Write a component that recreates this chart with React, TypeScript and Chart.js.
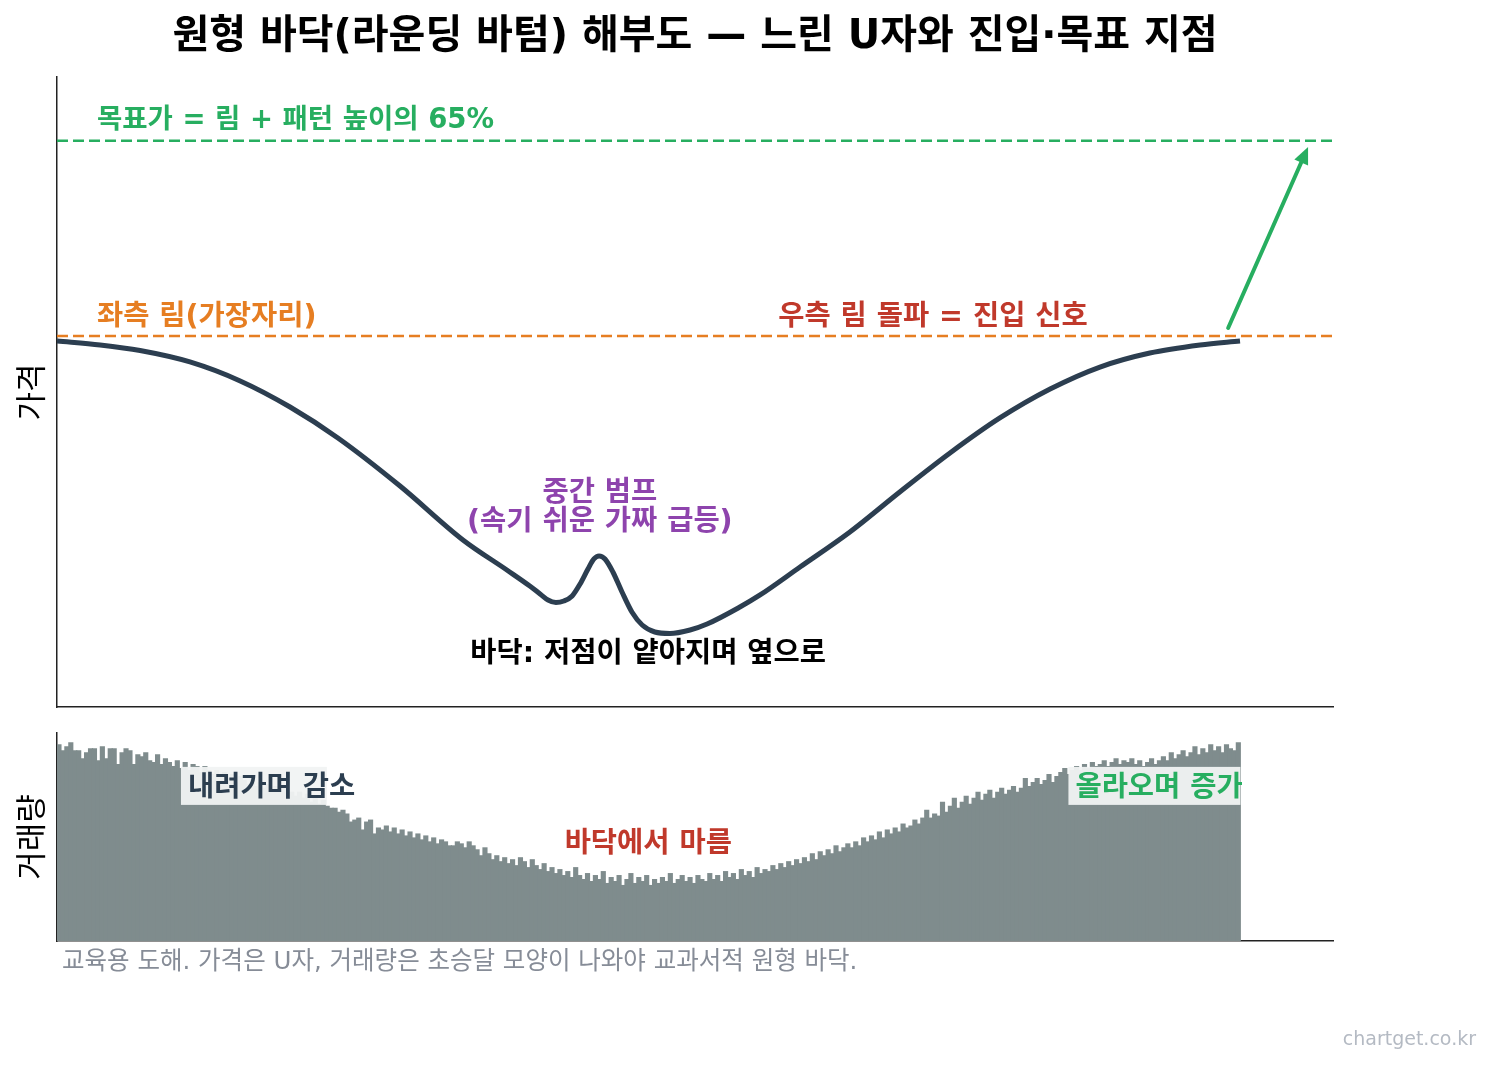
import { useEffect, useRef } from "react";
import { Chart, registerables } from "chart.js";

Chart.register(...registerables);

const FONT = '"DejaVu Sans", "Noto Sans CJK KR", sans-serif';
const FONT_KR = '"Noto Sans CJK KR", "DejaVu Sans", sans-serif';
const DARK = "#2c3e50";
const GREEN = "#27ae60";
const ORANGE = "#e67e22";
const RED = "#c0392b";
const PURPLE = "#8e44ad";
const BAR_GRAY = "#7f8c8d";

const TITLE = "원형 바닥(라운딩 바텀) 해부도 — 느린 U자와 진입·목표 지점";
const FOOTNOTE = "교육용 도해. 가격은 U자, 거래량은 초승달 모양이 나와야 교과서적 원형 바닥.";
const WATERMARK = "chartget.co.kr";

// Price levels of the pattern
const RIM = 100;
const PATTERN_LOW = 69.8;
const TARGET_SHARE = 0.65;
const TARGET = RIM + TARGET_SHARE * (RIM - PATTERN_LOW);

// Price path: session index -> price
const priceIdx = [
  0, 10.9, 21, 33.6, 46.3, 58.9, 71, 86.7, 102.6, 113.7, 119.5, 122.1, 124.1,
  126.1, 128.1, 130.2, 132.2, 134.2, 135.7, 137, 138.5, 140.5, 142.8, 145.3,
  147.9, 151.1, 154.9, 160, 164.3, 172.6, 177.7, 187.8, 200.4, 213, 225.7,
  238.3, 251, 263.6, 276.2, 288.9, 299,
];
const priceVal = [
  99.5, 99.1, 98.54, 97.39, 95.48, 92.86, 89.75, 84.92, 79.5, 76.48, 74.87,
  74.07, 73.46, 73.21, 73.36, 73.87, 75.07, 76.58, 77.59, 77.89, 77.59, 76.28,
  74.27, 72.26, 70.95, 70.25, 70.1, 70.45, 71.05, 72.76, 73.97, 76.78, 80.3,
  84.32, 88.24, 91.76, 94.67, 96.88, 98.29, 99.1, 99.5,
];

// Daily volume, one bar per session
const volumeData = [
  99, 96, 98, 100, 96, 96, 92, 95, 97, 97, 91, 98, 92, 97, 97, 89, 95, 97, 96, 89,
  94, 93, 95, 91, 90, 94, 89, 92, 90, 88, 91, 87, 90, 86, 89, 88, 85, 88, 86, 84,
  86, 83, 85, 82, 84, 80, 83, 81, 79, 82, 78, 80, 77, 79, 76, 78, 75, 77, 74, 75,
  73, 75, 72, 74, 70, 72, 69, 71, 68, 67, 67, 65, 66, 64, 60, 61, 62, 56, 60, 61,
  54, 57, 56, 58, 55, 57, 54, 56, 53, 55, 52, 54, 51, 53, 50, 52, 49, 51, 50, 48,
  48, 50, 49, 47, 50, 48, 46, 43, 47, 44, 41, 43, 40, 42, 39, 41, 38, 42, 40, 37,
  41, 38, 36, 39, 35, 37, 34, 36, 33, 35, 32, 37, 33, 31, 34, 30, 33, 31, 35, 29,
  32, 30, 33, 28, 31, 34, 29, 32, 30, 33, 28, 31, 29, 32, 30, 34, 29, 31, 33, 30,
  32, 29, 33, 31, 30, 34, 31, 33, 30, 35, 32, 34, 31, 36, 33, 35, 32, 37, 34, 36,
  35, 38, 36, 39, 37, 40, 38, 41, 39, 42, 40, 44, 41, 45, 43, 46, 44, 48, 45, 47,
  49, 47, 50, 48, 52, 50, 53, 51, 55, 52, 56, 54, 57, 55, 59, 57, 58, 61, 59, 62,
  66, 62, 64, 63, 70, 65, 68, 72, 67, 70, 73, 69, 72, 75, 71, 74, 76, 72, 75, 77,
  74, 76, 78, 75, 77, 82, 78, 80, 82, 79, 81, 84, 80, 83, 85, 87, 84, 86, 88, 86,
  89, 87, 90, 88, 89, 91, 88, 90, 92, 89, 91, 90, 92, 89, 91, 88, 90, 92, 89, 91,
  93, 91, 95, 92, 94, 96, 93, 95, 98, 94, 97, 95, 99, 96, 98, 95, 99, 97, 96, 100,
];

// Annotation anchors in data coordinates (session index, price / volume)
const priceNotes = [
  { text: "목표가 = 림 + 패턴 높이의 65%", x: 10.1, y: 121.9, color: GREEN, align: "left", size: 27.5 },
  { text: "좌측 림(가장자리)", x: 10.1, y: 102.2, color: ORANGE, align: "left", size: 28.5 },
  { text: "우측 림 돌파 = 진입 신호", x: 221.4, y: 102.2, color: RED, align: "center", size: 28.5 },
  { text: "중간 범프", x: 137.2, y: 84.42, color: PURPLE, align: "center", size: 28.5 },
  { text: "(속기 쉬운 가짜 급등)", x: 137.2, y: 81.51, color: PURPLE, align: "center", size: 28.5 },
  { text: "바닥: 저점이 얕아지며 옆으로", x: 149.4, y: 68.24, color: "#000000", align: "center", size: 28.5 },
];
const breakoutArrow = { from: [296, 100.8], to: [316.2, 119.0] };

const volumeNotes = [
  { text: "내려가며 감소", x: 32.7, y: 78.3, color: DARK, align: "left", boxWidth: 146 },
  { text: "바닥에서 마름", x: 149.4, y: 50, color: RED, align: "center", boxWidth: 0 },
  { text: "올라오며 증가", x: 257.7, y: 78.3, color: GREEN, align: "left", boxWidth: 172 },
];

const X_MAX_PRICE = 322.5;
const X_MAX_VOL = 323;

const TEXT_NUDGE = 3; // px; optical centring of Hangul on a "middle" baseline

const axisBorder = { display: true, color: "#222222", width: 1.5 };
const hiddenTicks = { display: false };
const noGrid = { display: false, drawTicks: false };
const axisTitleFont = { family: FONT_KR, size: 31 };
const axisTitlePad = { top: 4, bottom: 8.4 };

const priceOverlay = {
  id: "priceOverlay",
  afterDatasetsDraw(chart: any) {
    const { ctx, scales } = chart;
    const xs = scales.x;
    const ys = scales.y;
    ctx.save();
    // breakout arrow toward the target
    const x0 = xs.getPixelForValue(breakoutArrow.from[0]);
    const y0 = ys.getPixelForValue(breakoutArrow.from[1]);
    const x1 = xs.getPixelForValue(breakoutArrow.to[0]);
    const y1 = ys.getPixelForValue(breakoutArrow.to[1]);
    const ang = Math.atan2(y1 - y0, x1 - x0);
    const headLen = 17;
    const headHalf = 7.5;
    const bx = x1 - headLen * Math.cos(ang);
    const by = y1 - headLen * Math.sin(ang);
    ctx.strokeStyle = GREEN;
    ctx.fillStyle = GREEN;
    ctx.lineWidth = 4;
    ctx.lineCap = "round";
    ctx.beginPath();
    ctx.moveTo(x0, y0);
    ctx.lineTo(bx, by);
    ctx.stroke();
    ctx.beginPath();
    ctx.moveTo(x1, y1);
    ctx.lineTo(bx + headHalf * Math.sin(ang), by - headHalf * Math.cos(ang));
    ctx.lineTo(bx - headHalf * Math.sin(ang), by + headHalf * Math.cos(ang));
    ctx.closePath();
    ctx.fill();

    ctx.textBaseline = "middle";
    for (const n of priceNotes) {
      ctx.font = `bold ${n.size}px ${FONT}`;
      ctx.fillStyle = n.color;
      ctx.textAlign = n.align as CanvasTextAlign;
      ctx.fillText(n.text, xs.getPixelForValue(n.x), ys.getPixelForValue(n.y) + TEXT_NUDGE);
    }
    ctx.restore();
  },
};

const volumeOverlay = {
  id: "volumeOverlay",
  afterDatasetsDraw(chart: any) {
    const { ctx, scales, width } = chart;
    const xs = scales.x;
    const ys = scales.y;
    ctx.save();
    ctx.font = `bold 28.5px ${FONT}`;
    ctx.textBaseline = "middle";
    for (const n of volumeNotes) {
      const px = xs.getPixelForValue(n.x);
      const py = ys.getPixelForValue(n.y);
      if (n.boxWidth > 0) {
        ctx.fillStyle = "rgba(241, 243, 243, 0.95)";
        ctx.fillRect(px - 7, py - 19, n.boxWidth, 38);
      }
      ctx.fillStyle = n.color;
      ctx.textAlign = n.align as CanvasTextAlign;
      ctx.fillText(n.text, px, py + TEXT_NUDGE);
    }
    // footnote under the volume panel
    ctx.font = `24.5px ${FONT}`;
    ctx.fillStyle = "#868c97";
    ctx.textAlign = "left";
    ctx.fillText(FOOTNOTE, chart.chartArea.left + 5, chart.chartArea.bottom + 22);
    // site mark
    ctx.font = `19px "DejaVu Sans", sans-serif`;
    ctx.fillStyle = "#b4bac3";
    ctx.textAlign = "right";
    ctx.fillText(WATERMARK, width - 15, chart.chartArea.bottom + 99);
    ctx.restore();
  },
};

export default function App() {
  const priceRef = useRef<HTMLCanvasElement>(null);
  const volRef = useRef<HTMLCanvasElement>(null);

  useEffect(() => {
    const priceChart = new Chart(priceRef.current as HTMLCanvasElement, {
      type: "line",
      data: {
        datasets: [
          {
            data: priceIdx.map((x, i) => ({ x, y: priceVal[i] })),
            borderColor: DARK,
            borderWidth: 5,
            pointRadius: 0,
            cubicInterpolationMode: "monotone",
            borderCapStyle: "butt",
          },
          {
            data: [
              { x: 0, y: TARGET },
              { x: X_MAX_PRICE, y: TARGET },
            ],
            borderColor: GREEN,
            borderWidth: 2.5,
            borderDash: [11, 5],
            pointRadius: 0,
          },
          {
            data: [
              { x: 0, y: RIM },
              { x: X_MAX_PRICE, y: RIM },
            ],
            borderColor: ORANGE,
            borderWidth: 2.5,
            borderDash: [11, 5],
            pointRadius: 0,
          },
        ],
      },
      options: {
        animation: false,
        responsive: false,
        layout: { padding: { top: 14, left: 7.4, right: 158, bottom: 13 } },
        plugins: {
          legend: { display: false },
          tooltip: { enabled: false },
          title: {
            display: true,
            fullSize: false,
            text: TITLE,
            color: "#000000",
            font: { family: FONT, size: 40, weight: "bold" },
            padding: { top: 0, bottom: 15 },
          },
        },
        scales: {
          x: {
            type: "linear",
            min: 0,
            max: X_MAX_PRICE,
            ticks: hiddenTicks,
            grid: noGrid,
            border: axisBorder,
          },
          y: {
            type: "linear",
            min: 62.71,
            max: 126.03,
            ticks: hiddenTicks,
            grid: noGrid,
            border: axisBorder,
            title: {
              display: true,
              text: "가격",
              color: "#000000",
              font: axisTitleFont,
              padding: axisTitlePad,
            },
          },
        },
      },
      plugins: [priceOverlay],
    } as any);

    const volumeChart = new Chart(volRef.current as HTMLCanvasElement, {
      type: "bar",
      data: {
        datasets: [
          {
            data: volumeData.map((v, i) => ({ x: i, y: v })),
            backgroundColor: BAR_GRAY,
            borderWidth: 0,
            barPercentage: 1,
            categoryPercentage: 1,
            inflateAmount: 0.6,
          },
        ],
      },
      options: {
        animation: false,
        responsive: false,
        layout: { padding: { top: 13, left: 7.4, right: 158, bottom: 125 } },
        plugins: { legend: { display: false }, tooltip: { enabled: false } },
        scales: {
          x: {
            type: "linear",
            offset: false,
            min: -0.5,
            max: X_MAX_VOL,
            ticks: hiddenTicks,
            grid: { display: false, drawTicks: false, offset: false },
            border: axisBorder,
          },
          y: {
            type: "linear",
            min: 0,
            max: 105,
            ticks: hiddenTicks,
            grid: noGrid,
            border: axisBorder,
            title: {
              display: true,
              text: "거래량",
              color: "#000000",
              font: axisTitleFont,
              padding: axisTitlePad,
            },
          },
        },
      },
      plugins: [volumeOverlay],
    } as any);

    return () => {
      priceChart.destroy();
      volumeChart.destroy();
    };
  }, []);

  return (
    <div
      style={{
        position: "fixed",
        left: 0,
        top: 0,
        width: 1491,
        height: 1066,
        background: "#ffffff",
      }}
    >
      <canvas
        ref={priceRef}
        width={1491}
        height={720}
        style={{ position: "absolute", left: 0, top: 0 }}
      />
      <canvas
        ref={volRef}
        width={1491}
        height={346}
        style={{ position: "absolute", left: 0, top: 720 }}
      />
    </div>
  );
}
